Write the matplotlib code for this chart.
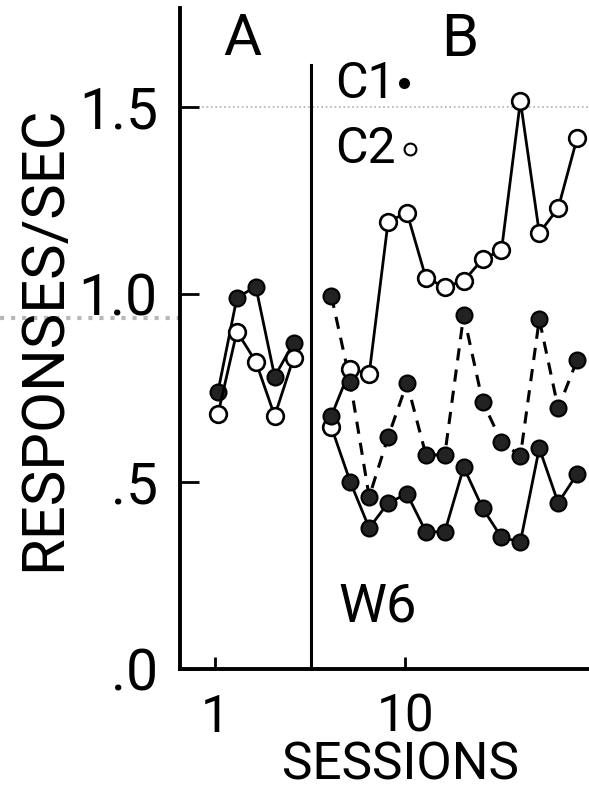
import numpy as np
import matplotlib.pyplot as plt
from matplotlib.lines import Line2D

plt.rcParams['font.family'] = ['Roboto', 'DejaVu Sans']

# phase A: sessions 1-5
a_sessions = [1, 2, 3, 4, 5]
a_c1 = [0.74, 0.99, 1.02, 0.78, 0.87]
a_c2 = [0.68, 0.90, 0.82, 0.675, 0.83]

# phase B: sessions 7-20
b_sessions = list(range(7, 21))
b_c2 = [0.645, 0.80, 0.787, 1.193, 1.217, 1.043, 1.019, 1.035, 1.093, 1.117,
        1.515, 1.163, 1.229, 1.416]
b_c1_low = [0.675, 0.499, 0.376, 0.443, 0.467, 0.366, 0.366, 0.538, 0.429,
            0.351, 0.339, 0.589, 0.443, 0.52]
b_c1_dash = [0.995, 0.765, 0.459, 0.619, 0.763, 0.571, 0.571, 0.944, 0.713,
             0.606, 0.568, 0.933, 0.695, 0.824]

yticks = [0.0, 0.5, 1.0, 1.5]
ytick_labels = ['.0', '.5', '1.0', '1.5']
xticks = [0.85, 10.9]
xtick_labels = ['1', '10']
phase_split = 5.92

fig = plt.figure(figsize=(5.89, 7.97), dpi=100)
ax = fig.add_axes([0.3056, 0.1606, 0.6944, 0.8294])
ax.set_xlim(-1.01, 20.63)
ax.set_ylim(0, 1.763)

for s in ['top', 'right']:
    ax.spines[s].set_visible(False)
for s in ['left', 'bottom']:
    ax.spines[s].set_linewidth(2.8)

ax.set_yticks(yticks)
ax.set_yticklabels(ytick_labels)
ax.set_xticks(xticks)
ax.set_xticklabels(xtick_labels)
ax.tick_params(axis='y', direction='in', length=14, width=2, pad=16, labelsize=41)
ax.tick_params(axis='x', direction='in', length=9, width=2, pad=17, labelsize=37)

# faint dotted marks across the sheet
ax.axhline(1.5, color='#b0b0b0', ls=':', lw=1.2, zorder=0)
fig.add_artist(Line2D([0, 1], [1 - 318 / 797] * 2, transform=fig.transFigure,
                      color='#b8b8b8', ls=':', lw=3, zorder=0))

# phase divider
ax.plot([phase_split, phase_split], [0, 1.61], color='black', lw=2.2, clip_on=False)

fill_kw = dict(marker='o', ms=11.5, mfc='#222222', mec='black', mew=1.5)
open_kw = dict(marker='o', ms=12, mfc='white', mec='black', mew=1.9)

# phase A
ax.plot(a_sessions, a_c1, color='black', lw=2, **fill_kw, zorder=3)
ax.plot(a_sessions, a_c2, color='black', lw=2, **open_kw, zorder=3)

# phase B: the first two points are joined crosswise
line_c2 = [b_c1_low[0]] + b_c2[1:]
line_low = [b_c2[0]] + b_c1_low[1:]
ax.plot(b_sessions, line_c2, color='black', lw=2, zorder=2)
ax.plot(b_sessions, line_low, color='black', lw=2, zorder=2)
ax.plot(b_sessions, b_c1_dash, color='black', lw=2.2, dashes=(4, 3), zorder=2)
ax.plot(b_sessions, b_c2, ls='none', **open_kw, zorder=4)
ax.plot(b_sessions, b_c1_low, ls='none', **fill_kw, zorder=4)
ax.plot(b_sessions, b_c1_dash, ls='none', **fill_kw, zorder=4)

# panel letters and key
ax.text(2.27, 1.68, 'A', fontsize=42, ha='center', va='center')
ax.text(13.8, 1.68, 'B', fontsize=43, ha='center', va='center')
ax.text(7.19, 1.56, 'C1', fontsize=36, ha='left', va='center')
ax.plot([10.85], [1.563], marker='o', ms=7, mfc='black', mec='black', clip_on=False)
ax.text(7.19, 1.387, 'C2', fontsize=36, ha='left', va='center')
ax.plot([11.15], [1.387], marker='o', ms=8.5, mfc='white', mec='black', mew=1.5)
ax.text(7.35, 0.165, 'W6', fontsize=39, ha='left', va='center')

fig.text(44 / 589, 1 - 338 / 797, 'RESPONSES/SEC', rotation=90, fontsize=43,
         ha='center', va='center')
fig.text(400 / 589, 1 - 765 / 797, 'SESSIONS', fontsize=37, ha='center', va='center')

fig.savefig('out.png', dpi=100)
